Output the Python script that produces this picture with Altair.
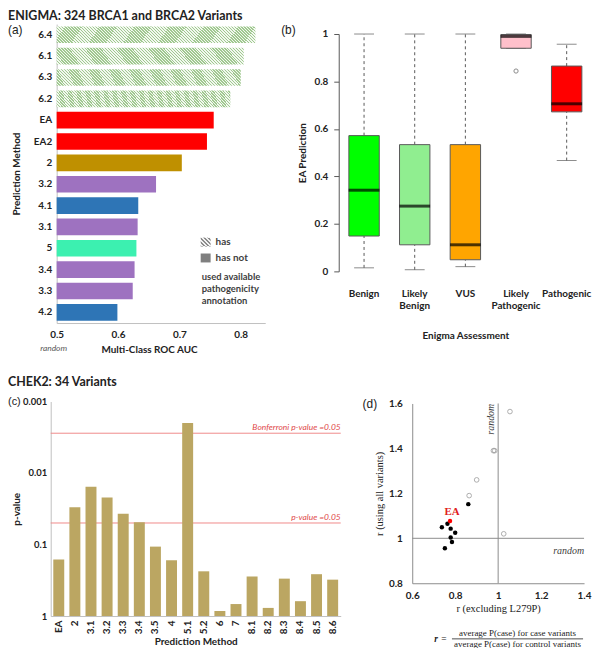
import altair as alt
import pandas as pd

W, H = 588, 640
SANS = "Lato"
SERIF = "Liberation Serif"
INK = "#222222"

# ---------------- data ----------------
# (a) ENIGMA multi-class ROC AUC
a_methods = ["6.4", "6.1", "6.3", "6.2", "EA", "EA2", "2", "3.2", "4.1", "3.1", "5", "3.4", "3.3", "4.2"]
a_auc = [0.824, 0.805, 0.800, 0.783, 0.756, 0.745, 0.704, 0.662, 0.633, 0.632, 0.630, 0.627, 0.624, 0.599]
a_group = ["6", "6", "6", "6", "EA", "EA", "2", "3", "4", "3", "5", "3", "3", "4"]
a_group_names = ["EA", "2", "3", "4", "5"]
a_group_colors = ["#ff0000", "#bf9000", "#9e72c0", "#2e75b6", "#3cf0b0"]

# (b) EA prediction by Enigma assessment (box plot summaries)
b_cats = ["Benign", "Likely Benign", "VUS", "Likely Pathogenic", "Pathogenic"]
b_min = [0.015, 0.007, 0.020, 0.940, 0.467]
b_q1 = [0.149, 0.112, 0.049, 0.940, 0.672]
b_med = [0.342, 0.275, 0.112, 0.990, 0.706]
b_q3 = [0.572, 0.534, 0.534, 0.998, 0.865]
b_max = [1.000, 1.000, 1.000, 1.000, 0.957]
b_colors = ["#00ff00", "#90ee90", "#ffa500", "#ffc0cb", "#ff0000"]
b_out_cat = ["Likely Pathogenic"]
b_out_val = [0.844]

# (c) CHEK2 p-values
c_methods = ["EA", "2", "3.1", "3.2", "3.3", "3.4", "3.5", "4", "5.1", "5.2",
             "6", "7", "8.1", "8.2", "8.3", "8.4", "8.5", "8.6"]
c_pvalues = [0.162, 0.030, 0.0156, 0.022, 0.037, 0.049, 0.107, 0.166, 0.0020, 0.237,
             0.85, 0.68, 0.28, 0.77, 0.30, 0.62, 0.26, 0.31]
c_alpha = 0.05
c_n_tests = 18
c_thr_labels = ["Bonferroni p-value =0.05", "p-value =0.05"]

# (d) r with and without L279P
d_filled_x = [0.861, 0.764, 0.738, 0.779, 0.800, 0.779, 0.785, 0.752]
d_filled_y = [1.152, 1.065, 1.049, 1.043, 1.025, 1.004, 0.984, 0.956]
d_open_x = [1.055, 0.978, 0.984, 0.900, 0.865, 1.026]
d_open_y = [1.564, 1.390, 1.390, 1.260, 1.190, 1.020]
d_ea_x = [0.776]
d_ea_y = [1.077]


# ---------------- helpers ----------------
def ax(**kw):
    base = dict(labelFont=SANS, labelFontWeight="bold", labelFontSize=10, labelColor=INK,
                titleFont=SANS, titleFontWeight="bold", titleFontSize=10, titleColor=INK,
                domainColor="#bfbfbf", ticks=False, grid=False)
    base.update(kw)
    return alt.Axis(**base)


def stripe_fill(c_line, c_bg, n, k, frac=0.5):
    s = (1 + k) / (1 + k * k)
    stops = []
    for i in range(n):
        t0, tm, t1 = i / n, (i + frac) / n, (i + 1) / n
        stops += [{"offset": t0, "color": c_line}, {"offset": tm, "color": c_line},
                  {"offset": tm, "color": c_bg}, {"offset": t1, "color": c_bg}]
    return {"gradient": "linear", "x1": 0, "y1": 1, "x2": s, "y2": 1 - k * s, "stops": stops}


def one():
    return pd.DataFrame({"k": [0]})


def txt(text, x, y, **kw):
    style = dict(font=SANS, fontSize=10, color=INK)
    style.update(kw)
    return alt.Chart(pd.DataFrame({"t": [text]})).mark_text(**style).encode(
        x=alt.value(x), y=alt.value(y), text="t:N")


# ---------------- panel (a) ----------------
dfa = pd.DataFrame({"method": a_methods, "auc": a_auc, "group": a_group})
sc_ax = alt.Scale(domain=[0.5, 0.84], range=[49, 259], nice=False, zero=False)
sc_ay = alt.Scale(domain=a_methods, range=[14, 315], paddingInner=0.22, paddingOuter=0.11)
ax_ax = ax(orient="bottom", offset=-(H - 315), values=[0.5, 0.6, 0.7, 0.8], format=".1f",
           labelFlush=False, title="Multi-Class ROC AUC", titleX=142, labelPadding=7, titlePadding=5)
ax_ay = ax(orient="left", offset=-49, title="Prediction Method", titlePadding=12, labelPadding=5)

a_solid = alt.Chart(dfa).transform_filter(alt.datum.group != "6").mark_bar().encode(
    x=alt.X("auc:Q", scale=sc_ax, axis=ax_ax),
    x2=alt.X2Datum(0.5),
    y=alt.Y("method:N", sort=a_methods, scale=sc_ay, axis=ax_ay),
    color=alt.Color("group:N", scale=alt.Scale(domain=a_group_names, range=a_group_colors), legend=None),
)
a_hatch = alt.Chart(dfa).transform_filter(alt.datum.group == "6").mark_bar(
    fill=stripe_fill("#a0c890", "#f2f8ef", 70, 0.088)).encode(
    x=alt.X("auc:Q", scale=sc_ax, axis=ax_ax),
    x2=alt.X2Datum(0.5),
    y=alt.Y("method:N", sort=a_methods, scale=sc_ay, axis=ax_ay),
)
a_random = alt.Chart(pd.DataFrame({"t": ["random"]})).mark_text(
    font=SANS, fontStyle="italic", fontSize=8.5, color="#595959", dx=-3).encode(
    x=alt.XDatum(0.5, scale=sc_ax, axis=ax_ax), y=alt.value(340), text="t:N")
panel_a = alt.layer(a_solid, a_hatch, a_random)

# ---------------- panel (b) ----------------
dfb = pd.DataFrame({"cat": b_cats, "mn": b_min, "q1": b_q1, "med": b_med, "q3": b_q3, "mx": b_max})
dfb_out = pd.DataFrame({"cat": b_out_cat, "v": b_out_val})
GRAYB = "#595959"
sc_bx = alt.Scale(domain=b_cats, range=[333, 588], paddingInner=0.4, paddingOuter=0.2)
sc_by = alt.Scale(domain=[0, 1], range=[263, 24], nice=False, zero=False)
ax_bx = ax(orient="bottom", offset=-(H - 263), domain=False, labelPadding=17,
           labelExpr="split(datum.label, ' ')", labelAngle=0, labelLineHeight=12.5,
           title="Enigma Assessment", titlePadding=20)
ax_by = ax(orient="left", offset=-333, values=[0, 0.2, 0.4, 0.6, 0.8, 1], format="~g",
           ticks=True, tickSize=5, tickColor=GRAYB, domainColor=GRAYB,
           labelPadding=6, title="EA Prediction", titlePadding=6)
bx = alt.X("cat:N", sort=b_cats, scale=sc_bx, axis=ax_bx)


def by(field):
    return alt.Y(field, scale=sc_by, axis=ax_by)


b_wlo = alt.Chart(dfb).mark_rule(color=GRAYB, strokeDash=[3, 3], strokeWidth=1).encode(
    x=bx, y=by("mn:Q"), y2="q1:Q")
b_whi = alt.Chart(dfb).mark_rule(color=GRAYB, strokeDash=[3, 3], strokeWidth=1).encode(
    x=bx, y=by("q3:Q"), y2="mx:Q")
b_cap_lo = alt.Chart(dfb).mark_tick(color=GRAYB, size=20, thickness=1).encode(x=bx, y=by("mn:Q"))
b_cap_hi = alt.Chart(dfb).mark_tick(color=GRAYB, size=20, thickness=1).encode(x=bx, y=by("mx:Q"))
b_box = alt.Chart(dfb).mark_bar(stroke=GRAYB, strokeWidth=1, opacity=1).encode(
    x=bx, y=by("q1:Q"), y2="q3:Q",
    color=alt.Color("cat:N", scale=alt.Scale(domain=b_cats, range=b_colors), legend=None),
)
b_med_tick = alt.Chart(dfb).mark_tick(color="black", size=31, thickness=3).encode(x=bx, y=by("med:Q"))
b_out = alt.Chart(dfb_out).mark_point(filled=False, color=GRAYB, size=18, strokeWidth=1).encode(
    x=bx, y=by("v:Q"))
panel_b = alt.layer(b_wlo, b_whi, b_cap_lo, b_cap_hi, b_box, b_med_tick, b_out)

# ---------------- panel (c) ----------------
dfc = pd.DataFrame({"method": c_methods, "p": c_pvalues})
dfc_thr = pd.DataFrame({"thr": [c_alpha / c_n_tests, c_alpha], "label": c_thr_labels})
sc_cx = alt.Scale(domain=c_methods, range=[43, 335], paddingInner=0.32, paddingOuter=0.16)
sc_cy = alt.Scale(type="log", domain=[0.001, 1], range=[394, 610], nice=False)
ax_cx = ax(orient="bottom", offset=-(H - 610), labelAngle=-90, labelAlign="right",
           labelBaseline="middle", labelPadding=4, title="Prediction Method", titlePadding=3)
ax_cy = ax(orient="left", offset=-43, values=[0.001, 0.01, 0.1, 1], format="~g",
           labelFontSize=9.5, labelPadding=4, title="p-value", titleX=-29)

c_bars = alt.Chart(dfc).mark_bar(color="#bba662").encode(
    x=alt.X("method:N", sort=c_methods, scale=sc_cx, axis=ax_cx),
    y=alt.Y("p:Q", scale=sc_cy, axis=ax_cy),
    y2=alt.Y2Datum(1),
)
c_rules = alt.Chart(dfc_thr).mark_rule(color="#f08a8a", strokeWidth=1).encode(
    y=alt.Y("thr:Q", scale=sc_cy, axis=ax_cy), x=alt.value(43), x2=alt.value(335))
c_rule_txt = alt.Chart(dfc_thr).mark_text(
    font=SANS, fontStyle="italic", fontSize=8.5, color="#e04848", align="right",
    baseline="bottom", dy=-1).encode(
    y=alt.Y("thr:Q", scale=sc_cy, axis=ax_cy), x=alt.value(335), text="label:N")
panel_c = alt.layer(c_rules, c_bars, c_rule_txt)

# ---------------- panel (d) ----------------
sc_dx = alt.Scale(domain=[0.6, 1.4], range=[407, 580], nice=False, zero=False)
sc_dy = alt.Scale(domain=[0.8, 1.6], range=[577, 396], nice=False, zero=False)
ax_dx = ax(orient="bottom", offset=-(H - 577), values=[0.6, 0.8, 1, 1.2, 1.4], format="~g",
           labelFlush=False, domainColor="#8c8c8c", labelPadding=7, title="r (excluding L279P)",
           titleFont=SERIF, titleFontWeight="normal", titleFontSize=10.5, titlePadding=3)
ax_dy = ax(orient="left", offset=-407, values=[0.8, 1, 1.2, 1.4, 1.6], format="~g",
           labelFlush=False, domainColor="#8c8c8c", labelPadding=10, title="r (using all variants)",
           titleFont=SERIF, titleFontWeight="normal", titleFontSize=10.5, titlePadding=4)
dfd_f = pd.DataFrame({"x": d_filled_x, "y": d_filled_y})
dfd_o = pd.DataFrame({"x": d_open_x, "y": d_open_y})
dfd_e = pd.DataFrame({"x": d_ea_x, "y": d_ea_y, "t": ["EA"]})
dxf = alt.X("x:Q", scale=sc_dx, axis=ax_dx)
dyf = alt.Y("y:Q", scale=sc_dy, axis=ax_dy)

d_vline = alt.Chart(one()).mark_rule(color="#8c8c8c", strokeWidth=1).encode(
    x=alt.XDatum(1, scale=sc_dx, axis=ax_dx), y=alt.YDatum(0.8, scale=sc_dy, axis=ax_dy),
    y2=alt.Y2Datum(1.6))
d_hline = alt.Chart(one()).mark_rule(color="#8c8c8c", strokeWidth=1).encode(
    y=alt.YDatum(1, scale=sc_dy, axis=ax_dy), x=alt.XDatum(0.6, scale=sc_dx, axis=ax_dx),
    x2=alt.X2Datum(1.4))
d_open = alt.Chart(dfd_o).mark_point(shape="circle", filled=False, color="#8c8c8c",
                                     size=22, strokeWidth=1).encode(x=dxf, y=dyf)
d_fill = alt.Chart(dfd_f).mark_circle(color="black", size=20, opacity=1).encode(x=dxf, y=dyf)
d_ea = alt.Chart(dfd_e).mark_circle(color="#ff0000", size=20, opacity=1).encode(x=dxf, y=dyf)
d_ea_lab = alt.Chart(dfd_e).mark_text(font=SERIF, fontWeight="bold", fontSize=11,
                                      color="#e02020", baseline="bottom", dy=-4, dx=2).encode(
    x=dxf, y=dyf, text="t:N")
d_rand_v = alt.Chart(pd.DataFrame({"t": ["random"]})).mark_text(
    font=SERIF, fontStyle="italic", fontSize=10, color="#404040", angle=270, baseline="bottom").encode(
    x=alt.XDatum(0.99, scale=sc_dx, axis=ax_dx), y=alt.YDatum(1.53, scale=sc_dy, axis=ax_dy), text="t:N")
d_rand_h = alt.Chart(pd.DataFrame({"t": ["random"]})).mark_text(
    font=SERIF, fontStyle="italic", fontSize=10, color="#404040", align="right", baseline="top", dy=8).encode(
    x=alt.XDatum(1.4, scale=sc_dx, axis=ax_dx), y=alt.YDatum(1, scale=sc_dy, axis=ax_dy), text="t:N")
panel_d = alt.layer(d_vline, d_hline, d_open, d_fill, d_ea, d_ea_lab, d_rand_v, d_rand_h)

# ---------------- annotations ----------------
legend_has = alt.Chart(one()).mark_rect(fill=stripe_fill("#8c8c8c", "#f2f2f2", 5, 1.0)).encode(
    x=alt.value(194), x2=alt.value(204), y=alt.value(229), y2=alt.value(238))
legend_hasnot = alt.Chart(one()).mark_rect(fill="#7f7f7f").encode(
    x=alt.value(194), x2=alt.value(204), y=alt.value(245), y2=alt.value(254))

annotations = [
    txt("ENIGMA: 324 BRCA1 and BRCA2 Variants", 0, 6, align="left", fontWeight="bold", fontSize=12.5),
    txt("(a)", 0, 20, align="left", font="Liberation Sans", fontSize=12),
    txt("(b)", 275, 20, align="left", font="Liberation Sans", fontSize=12),
    txt("CHEK2: 34 Variants", 0, 374, align="left", fontWeight="bold", fontSize=12.5),
    txt("(c)", 0, 395, align="left", font="Liberation Sans", fontSize=11),
    txt("(d)", 357, 397, align="left", font="Liberation Sans", fontSize=12),
    legend_has, legend_hasnot,
    txt("has", 209, 233, align="left", fontWeight="bold", color="#404040"),
    txt("has not", 209, 250, align="left", fontWeight="bold", color="#404040"),
    txt("used available", 195, 269, align="left", fontWeight="bold", fontSize=9.5, color="#404040"),
    txt("pathogenicity", 195, 281, align="left", fontWeight="bold", fontSize=9.5, color="#404040"),
    txt("annotation", 195, 293, align="left", fontWeight="bold", fontSize=9.5, color="#404040"),
    txt("r", 431, 633, font=SERIF, fontStyle="italic", fontWeight="bold", fontSize=9.5),
    txt("=", 439, 633, font=SERIF, fontSize=9.5),
    txt("average P(case) for case variants", 513, 627, font=SERIF, fontSize=9),
    alt.Chart(one()).mark_rule(color=INK, strokeWidth=0.8).encode(
        x=alt.value(447), x2=alt.value(579), y=alt.value(633)),
    txt("average P(case) for control variants", 513, 638.5, font=SERIF, fontSize=9),
]

chart = alt.layer(panel_a, panel_b, panel_c, panel_d, *annotations).resolve_scale(
    x="independent", y="independent", color="independent"
).properties(
    width=W, height=H, padding=0, autosize=alt.AutoSizeParams(type="none")
).configure_view(stroke=None)

chart.save("out.html", embed_options={"renderer": "svg", "actions": False})
